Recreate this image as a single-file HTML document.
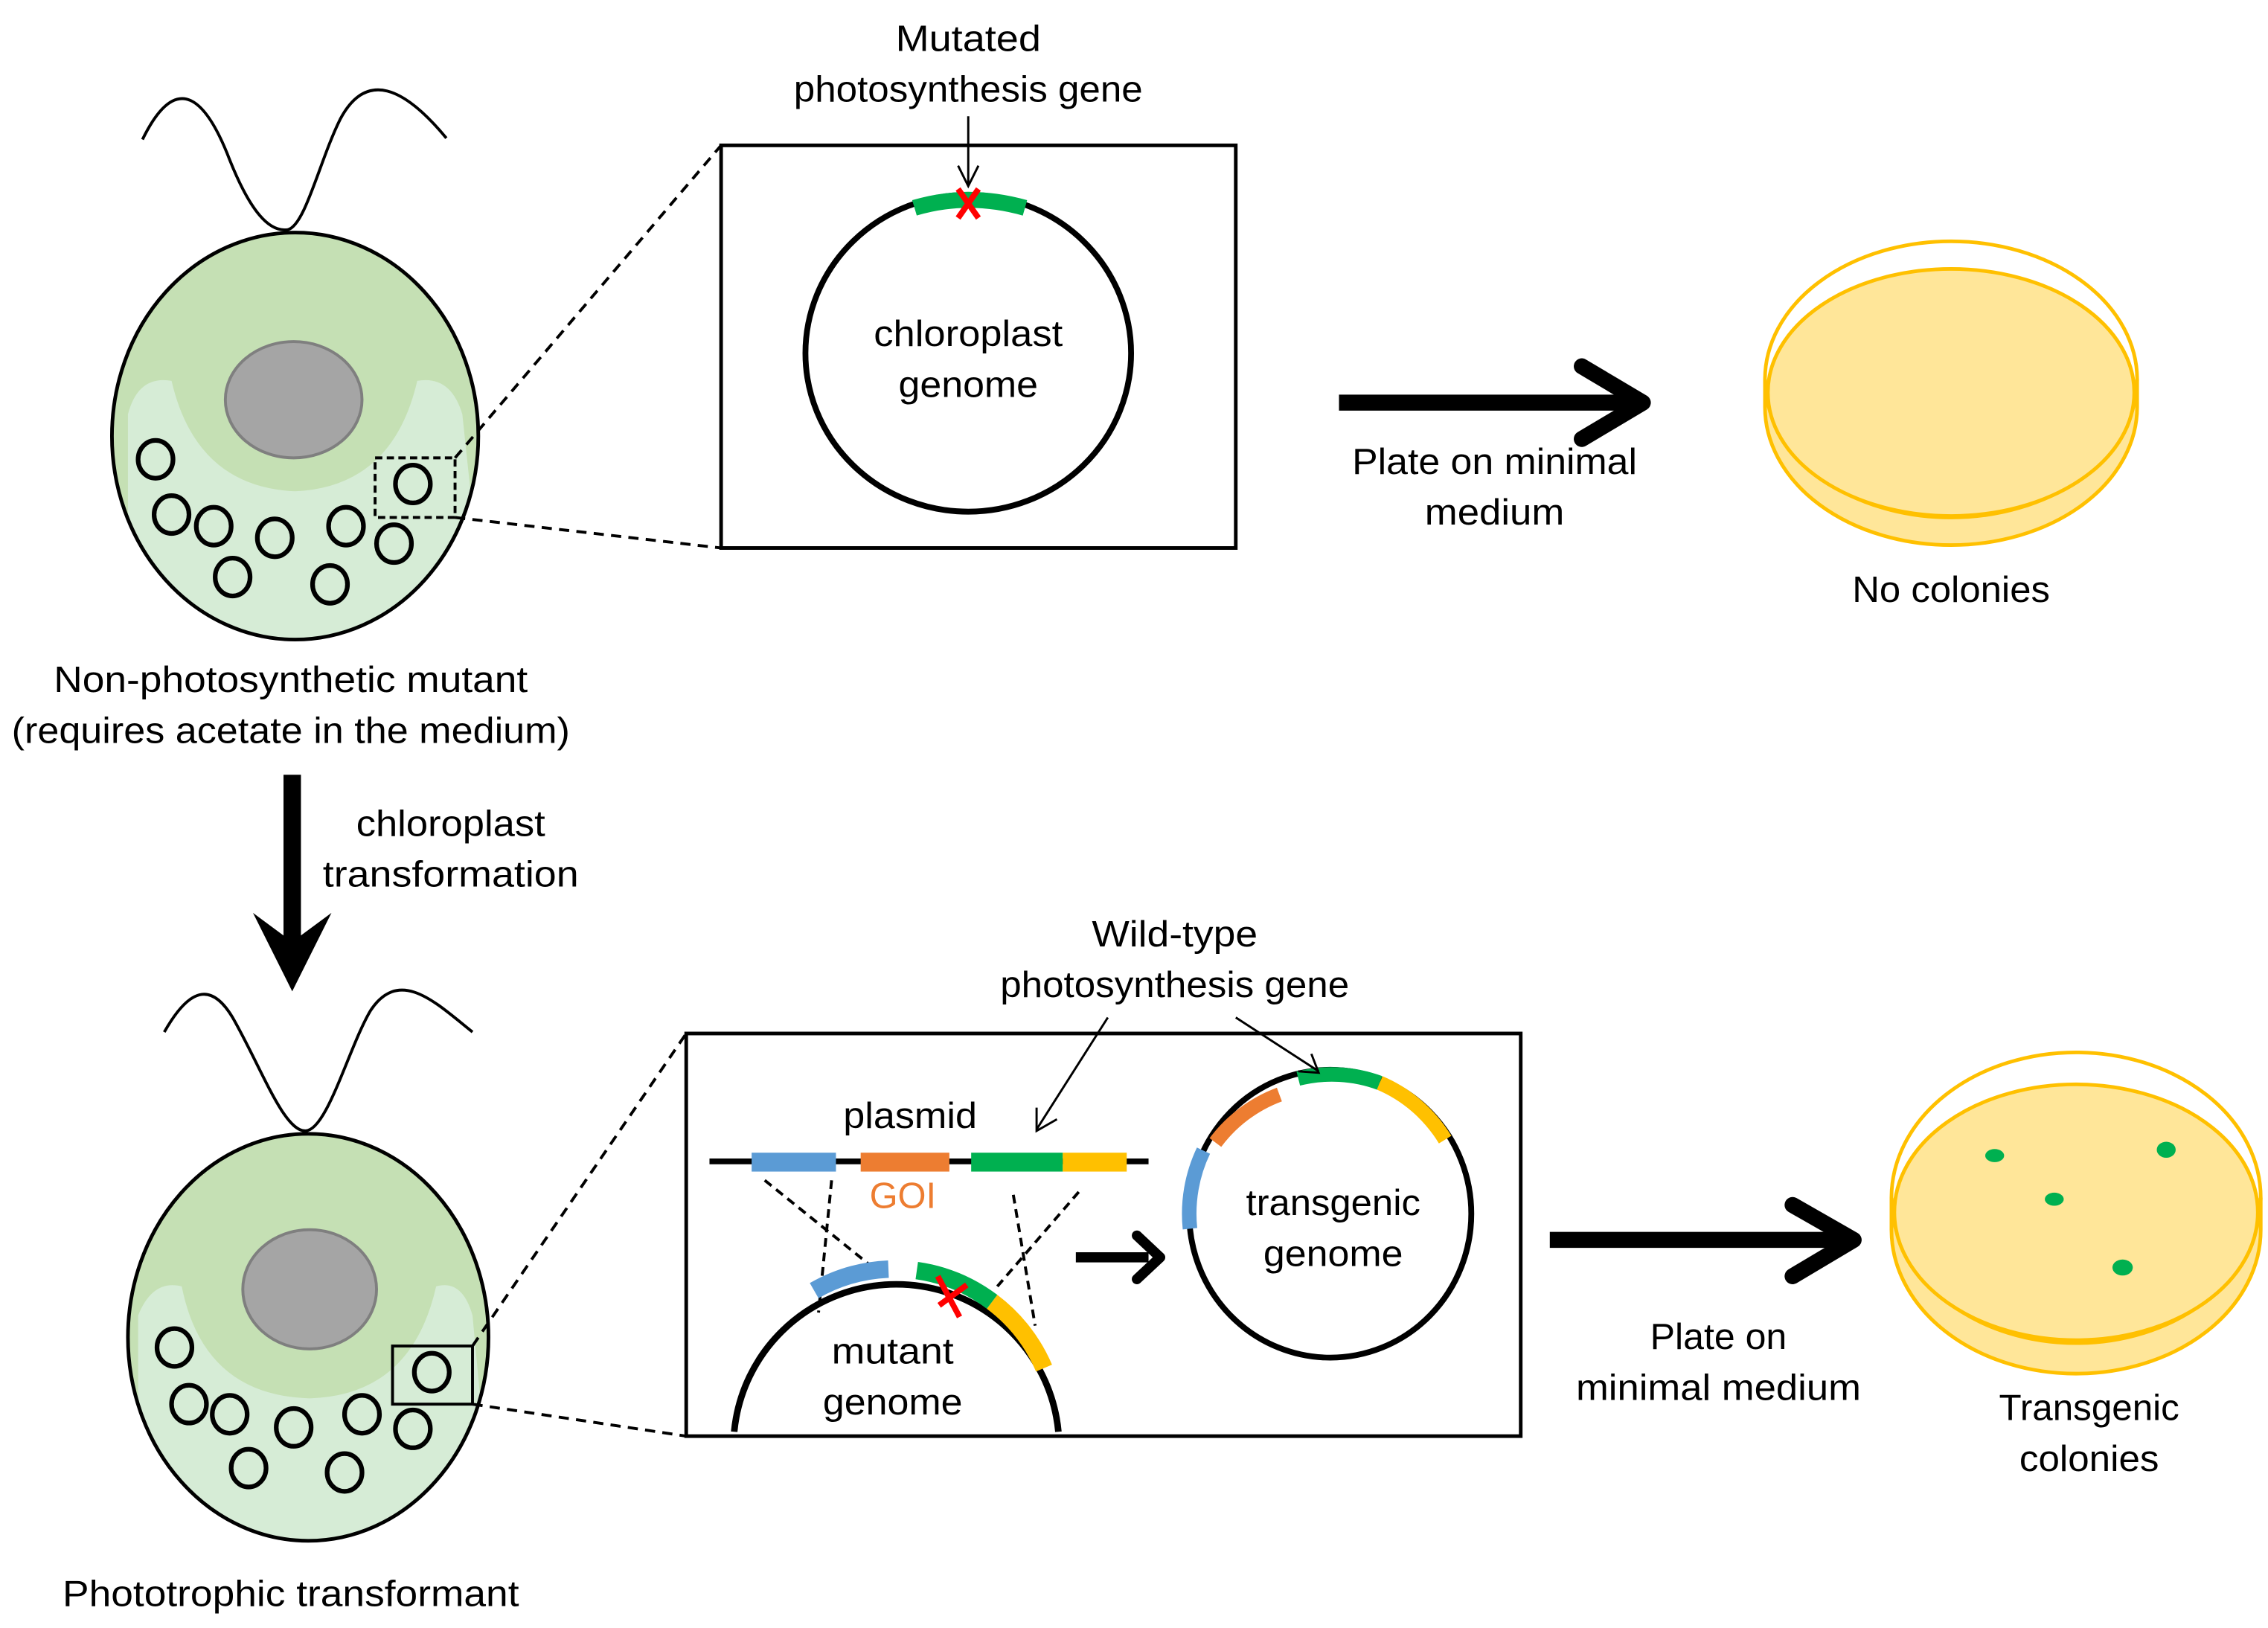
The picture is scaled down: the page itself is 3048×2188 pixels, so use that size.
<!DOCTYPE html>
<html><head><meta charset="utf-8"><style>
html,body{margin:0;padding:0;background:#fff;}
svg{display:block;}
text{font-family:"Liberation Sans",sans-serif;font-size:25px;fill:#000;text-anchor:middle;}
</style></head><body>
<svg width="3048" height="2188" viewBox="0 0 1560 1120" preserveAspectRatio="none" xmlns="http://www.w3.org/2000/svg">
<defs>
<clipPath id="c1"><ellipse cx="203" cy="300" rx="126" ry="140"/></clipPath>
<clipPath id="c2"><ellipse cx="212" cy="920" rx="124" ry="140"/></clipPath>
</defs>
<path d="M98,96 C118,55 138,58 158,110 C172,145 185,160 198,158 C210,155 220,110 234,82 C252,48 278,60 307,95" fill="none" stroke="#000" stroke-width="2"/>
<ellipse cx="203" cy="300" rx="126" ry="140" fill="#c5e0b4"/>
<g clip-path="url(#c1)">
<path d="M88,445 L88,285 Q95,258 118,262 Q135,335 203,338 Q270,335 287,262 Q310,258 318,285 L335,445 Z" fill="#d6ecd6"/>
</g>
<ellipse cx="203" cy="300" rx="126" ry="140" fill="none" stroke="#000" stroke-width="2.5"/>
<ellipse cx="202" cy="275" rx="47" ry="40" fill="#a5a5a5" stroke="#7f7f7f" stroke-width="2"/>
<g fill="none" stroke="#000" stroke-width="3.2">
<ellipse cx="107" cy="316" rx="12" ry="13"/><ellipse cx="118" cy="354" rx="12" ry="13"/><ellipse cx="147" cy="362" rx="12" ry="13"/><ellipse cx="189" cy="370" rx="12" ry="13"/><ellipse cx="238" cy="362" rx="12" ry="13"/><ellipse cx="271" cy="374" rx="12" ry="13"/><ellipse cx="160" cy="397" rx="12" ry="13"/><ellipse cx="227" cy="402" rx="12" ry="13"/><ellipse cx="284" cy="333" rx="12" ry="13"/>
</g>
<rect x="258" y="315" width="55" height="41" fill="none" stroke="#000" stroke-width="2" stroke-dasharray="5,3"/>
<line x1="313" y1="315" x2="496" y2="100" stroke="#000" stroke-width="2" stroke-dasharray="7,5"/>
<line x1="313" y1="356" x2="496" y2="377" stroke="#000" stroke-width="2" stroke-dasharray="7,5"/>
<text x="200" y="476" textLength="326" lengthAdjust="spacingAndGlyphs">Non-photosynthetic mutant</text>
<text x="200" y="511" textLength="384" lengthAdjust="spacingAndGlyphs">(requires acetate in the medium)</text>
<rect x="496" y="100" width="354" height="277" fill="none" stroke="#000" stroke-width="2.5"/>
<ellipse cx="666" cy="243" rx="112" ry="109" fill="none" stroke="#000" stroke-width="4"/>
<path d="M629,143 Q666,132 705,143" fill="none" stroke="#00b050" stroke-width="11"/>
<g stroke="#ff0000" stroke-width="4"><line x1="659" y1="130" x2="673" y2="150"/><line x1="673" y1="130" x2="659" y2="150"/></g>
<line x1="666" y1="80" x2="666" y2="127" stroke="#000" stroke-width="1.5"/>
<polyline points="659,114 666,128 673,114" fill="none" stroke="#000" stroke-width="1.5"/>
<text x="666" y="35" textLength="100" lengthAdjust="spacingAndGlyphs">Mutated</text>
<text x="666" y="70" textLength="240" lengthAdjust="spacingAndGlyphs">photosynthesis gene</text>
<text x="666" y="238" textLength="130" lengthAdjust="spacingAndGlyphs">chloroplast</text>
<text x="666" y="273" textLength="96" lengthAdjust="spacingAndGlyphs">genome</text>
<line x1="921" y1="277" x2="1125" y2="277" stroke="#000" stroke-width="11"/>
<polyline points="1088,252 1130,277 1088,302" fill="none" stroke="#000" stroke-width="11" stroke-linecap="round" stroke-linejoin="round"/>
<text x="1028" y="326" textLength="196" lengthAdjust="spacingAndGlyphs">Plate on minimal</text>
<text x="1028" y="361" textLength="96" lengthAdjust="spacingAndGlyphs">medium</text>
<path d="M1214,261 L1214,280 A128,95 0 0 0 1470,280 L1470,261 Z" fill="#ffe699"/>
<path d="M1214,261 L1214,280 A128,95 0 0 0 1470,280 L1470,261" fill="none" stroke="#ffc000" stroke-width="2.5"/>
<ellipse cx="1342" cy="261" rx="128" ry="95" fill="none" stroke="#ffc000" stroke-width="2.5"/>
<ellipse cx="1342" cy="270" rx="126" ry="85" fill="#ffe699" stroke="#ffc000" stroke-width="2.5"/>
<text x="1342" y="414" textLength="136" lengthAdjust="spacingAndGlyphs">No colonies</text>
<line x1="201" y1="533" x2="201" y2="660" stroke="#000" stroke-width="12"/>
<polygon points="174,628 201,682 228,628 201,648" fill="#000"/>
<text x="310" y="575" textLength="130" lengthAdjust="spacingAndGlyphs">chloroplast</text>
<text x="310" y="610" textLength="176" lengthAdjust="spacingAndGlyphs">transformation</text>
<path d="M113,710 C130,680 145,675 160,700 C180,735 195,778 210,778 C225,778 240,720 255,695 C275,665 300,690 325,710" fill="none" stroke="#000" stroke-width="2"/>
<ellipse cx="212" cy="920" rx="124" ry="140" fill="#c5e0b4"/>
<g clip-path="url(#c2)">
<path d="M95,1065 L95,905 Q105,880 125,885 Q140,960 213,962 Q283,960 300,885 Q318,880 325,905 L340,1065 Z" fill="#d6ecd6"/>
</g>
<ellipse cx="212" cy="920" rx="124" ry="140" fill="none" stroke="#000" stroke-width="2.5"/>
<ellipse cx="213" cy="887" rx="46" ry="41" fill="#a5a5a5" stroke="#7f7f7f" stroke-width="2"/>
<g fill="none" stroke="#000" stroke-width="3.2">
<ellipse cx="120" cy="927" rx="12" ry="13"/><ellipse cx="130" cy="966" rx="12" ry="13"/><ellipse cx="158" cy="973" rx="12" ry="13"/><ellipse cx="202" cy="982" rx="12" ry="13"/><ellipse cx="249" cy="973" rx="12" ry="13"/><ellipse cx="284" cy="983" rx="12" ry="13"/><ellipse cx="171" cy="1010" rx="12" ry="13"/><ellipse cx="237" cy="1013" rx="12" ry="13"/><ellipse cx="297" cy="944" rx="12" ry="13"/>
</g>
<rect x="270" y="926" width="55" height="40" fill="none" stroke="#000" stroke-width="2"/>
<line x1="325" y1="926" x2="472" y2="711" stroke="#000" stroke-width="2" stroke-dasharray="7,5"/>
<line x1="325" y1="966" x2="472" y2="988" stroke="#000" stroke-width="2" stroke-dasharray="7,5"/>
<text x="200" y="1105" textLength="314" lengthAdjust="spacingAndGlyphs">Phototrophic transformant</text>
<rect x="472" y="711" width="574" height="277" fill="none" stroke="#000" stroke-width="2.5"/>
<text x="626" y="776" textLength="92" lengthAdjust="spacingAndGlyphs">plasmid</text>
<line x1="488" y1="799" x2="790" y2="799" stroke="#000" stroke-width="4"/>
<rect x="517" y="793" width="58" height="13" fill="#5b9bd5"/>
<rect x="592" y="793" width="61" height="13" fill="#ed7d31"/>
<rect x="668" y="793" width="63" height="13" fill="#00b050"/>
<rect x="731" y="793" width="44" height="13" fill="#ffc000"/>
<text x="621" y="831" style="fill:#ed7d31">GOI</text>
<g stroke="#000" stroke-width="2" stroke-dasharray="6,4">
<line x1="526" y1="812" x2="598" y2="870"/><line x1="572" y1="812" x2="563" y2="903"/>
<line x1="697" y1="822" x2="712" y2="912"/><line x1="742" y1="820" x2="686" y2="885"/>
</g>
<path d="M505,985 A112,112 0 0 1 728,985" fill="none" stroke="#000" stroke-width="4.5"/>
<path d="M560.0,887.9 A112,112 0 0 1 611.1,873.1" fill="none" stroke="#5b9bd5" stroke-width="12"/>
<path d="M630.6,874.1 A112,112 0 0 1 682.4,895.6" fill="none" stroke="#00b050" stroke-width="12"/>
<path d="M682.4,895.6 A112,112 0 0 1 718.1,941.2" fill="none" stroke="#ffc000" stroke-width="12"/>
<g stroke="#ff0000" stroke-width="4"><line x1="645" y1="878" x2="660" y2="906"/><line x1="665" y1="884" x2="646" y2="898"/></g>
<text x="614" y="938" textLength="84" lengthAdjust="spacingAndGlyphs">mutant</text>
<text x="614" y="973" textLength="96" lengthAdjust="spacingAndGlyphs">genome</text>
<line x1="740" y1="865" x2="790" y2="865" stroke="#000" stroke-width="7"/>
<polyline points="782,850 798,865 782,880" fill="none" stroke="#000" stroke-width="7" stroke-linecap="round" stroke-linejoin="round"/>
<ellipse cx="915" cy="835" rx="97" ry="99" fill="none" stroke="#000" stroke-width="4"/>
<path d="M818.5,845.3 A97,99 0 0 1 827.8,791.6" fill="none" stroke="#5b9bd5" stroke-width="10"/>
<path d="M836,786 A97,99 0 0 1 880,753" fill="none" stroke="#ed7d31" stroke-width="10"/>
<path d="M893,742 A97,99 0 0 1 949,745" fill="none" stroke="#00b050" stroke-width="10"/>
<path d="M949,745 A97,99 0 0 1 994,784" fill="none" stroke="#ffc000" stroke-width="10"/>
<text x="917" y="836" textLength="120" lengthAdjust="spacingAndGlyphs">transgenic</text>
<text x="917" y="871" textLength="96" lengthAdjust="spacingAndGlyphs">genome</text>
<text x="808" y="651" textLength="114" lengthAdjust="spacingAndGlyphs">Wild-type</text>
<text x="808" y="686" textLength="240" lengthAdjust="spacingAndGlyphs">photosynthesis gene</text>
<line x1="762" y1="700" x2="713" y2="777" stroke="#000" stroke-width="1.5"/>
<polyline points="713,762 713,778 727,770" fill="none" stroke="#000" stroke-width="1.5"/>
<line x1="850" y1="700" x2="907" y2="737" stroke="#000" stroke-width="1.5"/>
<polyline points="893,737 907,738 902,725" fill="none" stroke="#000" stroke-width="1.5"/>
<line x1="1066" y1="853" x2="1270" y2="853" stroke="#000" stroke-width="11"/>
<polyline points="1233,829 1275,853 1233,878" fill="none" stroke="#000" stroke-width="11" stroke-linecap="round" stroke-linejoin="round"/>
<text x="1182" y="928" textLength="94" lengthAdjust="spacingAndGlyphs">Plate on</text>
<text x="1182" y="963" textLength="196" lengthAdjust="spacingAndGlyphs">minimal medium</text>
<path d="M1301,824 L1301,846 A127,99 0 0 0 1555,846 L1555,824 Z" fill="#ffe699"/>
<path d="M1301,824 L1301,846 A127,99 0 0 0 1555,846 L1555,824" fill="none" stroke="#ffc000" stroke-width="2.5"/>
<ellipse cx="1428" cy="824" rx="127" ry="100" fill="none" stroke="#ffc000" stroke-width="2.5"/>
<ellipse cx="1428" cy="834" rx="125" ry="88" fill="#ffe699" stroke="#ffc000" stroke-width="2.5"/>
<g fill="#00b050">
<ellipse cx="1372" cy="795" rx="6.5" ry="4.5"/><ellipse cx="1490" cy="791" rx="6.5" ry="5.5"/><ellipse cx="1413" cy="825" rx="6.5" ry="4.5"/><ellipse cx="1460" cy="872" rx="7" ry="5.5"/>
</g>
<text x="1437" y="977" textLength="124" lengthAdjust="spacingAndGlyphs">Transgenic</text>
<text x="1437" y="1012" textLength="96" lengthAdjust="spacingAndGlyphs">colonies</text>
</svg>
</body></html>
